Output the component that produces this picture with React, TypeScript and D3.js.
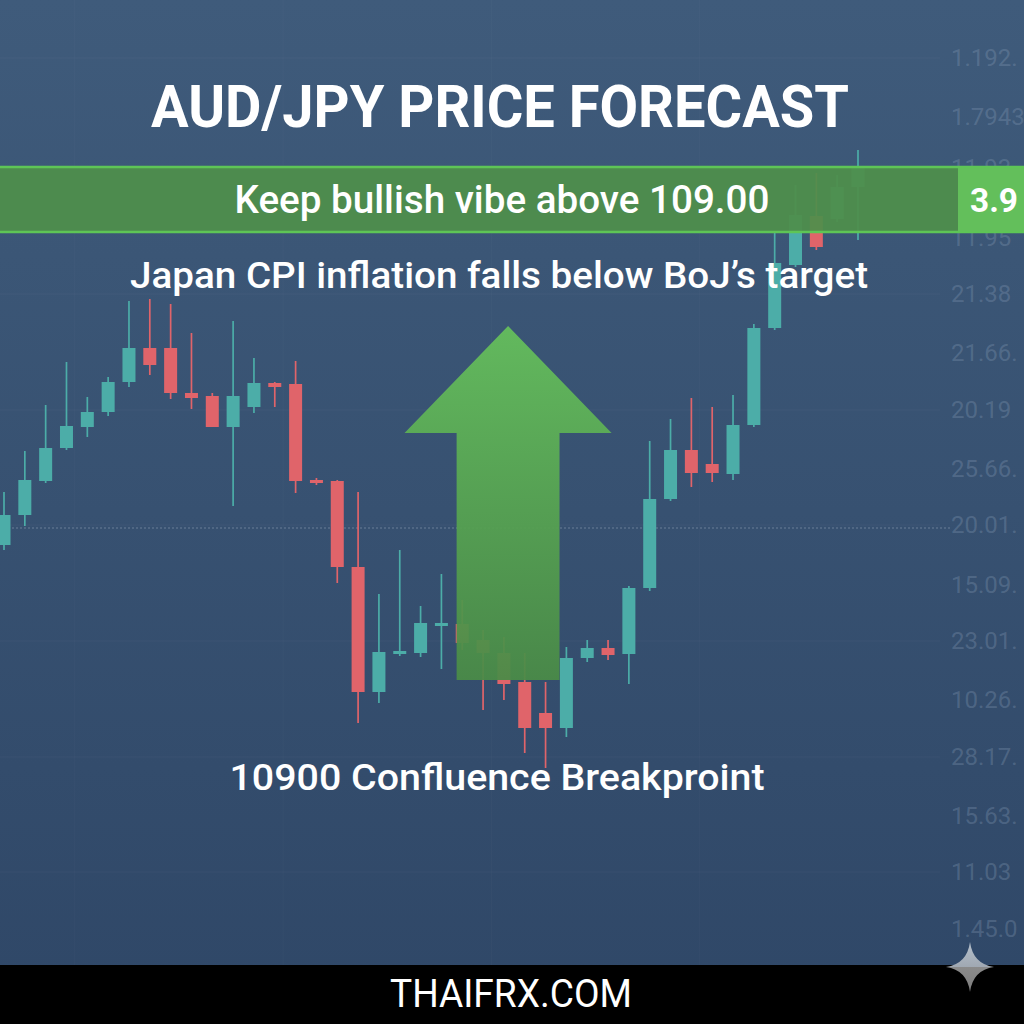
import React, { useEffect, useRef } from 'react';
import * as d3 from 'd3';

// candle data, index order (open, high, low, close)
const opens = [106.05, 106.35, 106.69, 107.02, 107.23, 107.38, 107.68, 108.02, 108.02, 107.57, 107.54, 107.23, 107.43, 107.67, 107.66, 106.70, 106.69, 105.83, 104.58, 104.97, 104.97, 105.24, 105.26, 105.10, 104.97, 104.68, 104.37, 104.22, 104.92, 105.02, 104.96, 105.62, 106.51, 107.00, 106.86, 106.76, 107.25, 108.22, 108.85, 109.34, 109.31, 109.63];
const highs = [106.58, 106.99, 107.45, 107.88, 107.53, 107.73, 108.49, 108.51, 108.46, 108.17, 107.57, 108.29, 107.92, 107.68, 107.89, 106.72, 106.70, 106.58, 105.56, 106.00, 105.44, 105.76, 105.50, 105.20, 105.13, 104.97, 104.68, 105.03, 105.10, 105.10, 105.64, 107.09, 107.31, 107.52, 107.43, 107.55, 108.26, 109.17, 109.65, 109.77, 109.75, 110.00];
const lows = [106.00, 106.24, 106.67, 107.00, 107.13, 107.34, 107.63, 107.75, 107.51, 107.41, 107.23, 106.44, 107.37, 107.43, 106.57, 106.65, 105.67, 104.27, 104.47, 104.94, 104.93, 104.81, 105.00, 104.40, 104.50, 103.97, 103.82, 104.13, 104.88, 104.90, 104.66, 105.59, 106.49, 106.63, 106.68, 106.70, 107.23, 108.20, 108.83, 109.00, 109.28, 109.10];
const closes = [106.35, 106.70, 107.02, 107.24, 107.38, 107.68, 108.02, 107.85, 107.57, 107.52, 107.23, 107.54, 107.67, 107.63, 106.69, 106.68, 105.83, 104.58, 104.98, 104.99, 105.27, 105.27, 105.07, 104.97, 104.66, 104.22, 104.22, 104.92, 105.02, 104.95, 105.62, 106.51, 107.00, 106.77, 106.77, 107.25, 108.22, 108.87, 109.35, 109.03, 109.63, 109.82];

// right price axis (labels as printed)
const tickPrices = [110.92, 110.33, 109.82, 109.12, 108.56, 107.97, 107.40, 106.81, 106.25, 105.65, 105.09, 104.50, 103.93, 103.34, 102.78, 102.21];
const tickLabels = ['1.192.', '1.7943', '11.93', '11.95', '21.38', '21.66.', '20.19', '25.66.', '20.01.', '15.09.', '23.01.', '10.26.', '28.17.', '15.63.', '11.03', '1.45.0'];
const dottedLevel = 106.22;

// annotation arrow, in candle index / price units
const arrowCenter = 24.2;
const arrowHeadHalf = 4.97;
const arrowShaftHalf = 2.47;
const arrowTip = 108.24;
const arrowNeck = 107.17;
const arrowBase = 104.7;

const title = 'AUD/JPY PRICE FORECAST';
const bannerText = 'Keep bullish vibe above 109.00';
const bannerValue = '3.9';
const subtitle = 'Japan CPI inflation falls below BoJ\u2019s target';
const footnote = '10900 Confluence Breakproint';
const brand = 'THAIFRX.COM';

const App: React.FC = () => {
  const svgRef = useRef<SVGSVGElement>(null);

  useEffect(() => {
    if (!svgRef.current) return;
    const width = 1024;
    const height = 1024;
    const svg = d3.select(svgRef.current);
    svg.selectAll('*').remove();

    const x = d3.scaleLinear().domain([0, 41]).range([4, 858]);
    const y = d3.scaleLinear().domain([111.5, 101.5]).range([0, 1000]);

    const defs = svg.append('defs');
    const bg = defs.append('linearGradient').attr('id', 'bg').attr('x1', 0).attr('y1', 0).attr('x2', 0).attr('y2', 1);
    bg.append('stop').attr('offset', '0%').attr('stop-color', '#3f5b7b');
    bg.append('stop').attr('offset', '100%').attr('stop-color', '#2f4767');

    const ag = defs.append('linearGradient').attr('id', 'arrow').attr('x1', 0).attr('y1', 0).attr('x2', 0).attr('y2', 1);
    ag.append('stop').attr('offset', '0%').attr('stop-color', '#65bf5c');
    ag.append('stop').attr('offset', '100%').attr('stop-color', '#4a8b47');

    const sg = defs.append('linearGradient').attr('id', 'spark').attr('x1', 0).attr('y1', 0).attr('x2', 0).attr('y2', 1);
    sg.append('stop').attr('offset', '0%').attr('stop-color', '#b5c0cc');
    sg.append('stop').attr('offset', '50%').attr('stop-color', '#a0a8b2');
    sg.append('stop').attr('offset', '50%').attr('stop-color', '#8a8a8a');
    sg.append('stop').attr('offset', '100%').attr('stop-color', '#7d7d7d');

    svg.append('rect').attr('width', width).attr('height', height).attr('fill', 'url(#bg)');

    // faint grid
    svg.append('g').selectAll('line')
      .data(tickPrices.filter((_, i) => i % 2 === 0))
      .join('line')
      .attr('x1', 0).attr('x2', 940)
      .attr('y1', d => y(d)).attr('y2', d => y(d))
      .attr('stroke', '#ffffff').attr('stroke-opacity', 0.035);
    svg.append('g').selectAll('line')
      .data([3.4, 13.4, 23.4, 33.4])
      .join('line')
      .attr('x1', d => x(d)).attr('x2', d => x(d))
      .attr('y1', 0).attr('y2', 965)
      .attr('stroke', '#ffffff').attr('stroke-opacity', 0.025);

    svg.append('line')
      .attr('x1', 0).attr('x2', 950)
      .attr('y1', y(dottedLevel)).attr('y2', y(dottedLevel))
      .attr('stroke', '#a9b8c8').attr('stroke-opacity', 0.45)
      .attr('stroke-width', 1.2).attr('stroke-dasharray', '2,2');

    // price axis
    const axis = d3.axisRight(y)
      .tickValues(tickPrices)
      .tickSize(0)
      .tickFormat((_, i) => tickLabels[i]);
    const ax = svg.append('g').attr('transform', 'translate(948,0)').call(axis);
    ax.select('.domain').remove();
    ax.selectAll('text')
      .attr('fill', '#8ea3bd').attr('fill-opacity', 0.3)
      .attr('font-family', 'Roboto, sans-serif').attr('font-size', 24)
      .attr('x', 3);

    // candles
    const idx = d3.range(opens.length);
    const teal = '#4cada8';
    const red = '#e0646a';
    const colorOf = (i: number) => (closes[i] >= opens[i] ? teal : red);
    const bw = 13;
    const cg = svg.append('g');
    cg.selectAll('line.wick').data(idx).join('line')
      .attr('class', 'wick')
      .attr('x1', i => x(i)).attr('x2', i => x(i))
      .attr('y1', i => y(highs[i])).attr('y2', i => y(lows[i]))
      .attr('stroke', i => colorOf(i)).attr('stroke-width', 1.7);
    cg.selectAll('rect.body').data(idx).join('rect')
      .attr('class', 'body')
      .attr('x', i => x(i) - bw / 2).attr('width', bw)
      .attr('y', i => y(Math.max(opens[i], closes[i])))
      .attr('height', i => Math.max(3, Math.abs(y(opens[i]) - y(closes[i]))))
      .attr('fill', i => colorOf(i));

    // up arrow
    const arrowPts: [number, number][] = [
      [x(arrowCenter), y(arrowTip)],
      [x(arrowCenter + arrowHeadHalf), y(arrowNeck)],
      [x(arrowCenter + arrowShaftHalf), y(arrowNeck)],
      [x(arrowCenter + arrowShaftHalf), y(arrowBase)],
      [x(arrowCenter - arrowShaftHalf), y(arrowBase)],
      [x(arrowCenter - arrowShaftHalf), y(arrowNeck)],
      [x(arrowCenter - arrowHeadHalf), y(arrowNeck)],
    ];
    svg.append('path')
      .attr('d', d3.line()(arrowPts) + 'Z')
      .attr('fill', 'url(#arrow)').attr('fill-opacity', 0.94);

    // banner
    svg.append('rect').attr('x', 0).attr('y', 167).attr('width', 958).attr('height', 65)
      .attr('fill', '#4f8e4b').attr('fill-opacity', 0.94);
    svg.append('rect').attr('x', 958).attr('y', 167).attr('width', 66).attr('height', 65)
      .attr('fill', '#63bf5b');
    svg.selectAll('line.bline').data([167, 232]).join('line')
      .attr('class', 'bline')
      .attr('x1', 0).attr('x2', 1024).attr('y1', d => d).attr('y2', d => d)
      .attr('stroke', '#5ec556').attr('stroke-width', 2.5);

    const addText = (t: string, cx: number, by: number, size: number, weight: number, len: number, family = 'Roboto, sans-serif') => {
      svg.append('text')
        .attr('x', cx).attr('y', by)
        .attr('text-anchor', 'middle')
        .attr('fill', '#ffffff')
        .attr('font-family', family)
        .attr('font-size', size)
        .attr('font-weight', weight)
        .attr('textLength', len)
        .attr('lengthAdjust', 'spacingAndGlyphs')
        .text(t);
    };

    addText(title, 500, 127, 60, 700, 698);
    addText(bannerText, 502, 213, 38, 500, 535);
    addText(bannerValue, 994, 212, 34, 700, 48);
    addText(subtitle, 499, 288, 37, 500, 738);
    addText(footnote, 497, 790, 37, 500, 535);

    // footer band
    svg.append('rect').attr('x', 0).attr('y', 965).attr('width', width).attr('height', 59).attr('fill', '#000000');
    addText(brand, 511, 1007, 38, 400, 242, '"Liberation Sans Narrow", Roboto, sans-serif');

    const cx = 970, cy = 967, rv = 25, rh = 24;
    svg.append('path')
      .attr('d', `M${cx},${cy - rv} Q${cx + 3},${cy - 3} ${cx + rh},${cy} Q${cx + 3},${cy + 3} ${cx},${cy + rv} Q${cx - 3},${cy + 3} ${cx - rh},${cy} Q${cx - 3},${cy - 3} ${cx},${cy - rv}Z`)
      .attr('fill', 'url(#spark)');
  }, []);

  return (
    <svg ref={svgRef} width={1024} height={1024} style={{ position: 'absolute', left: 0, top: 0 }} />
  );
};

export default App;
